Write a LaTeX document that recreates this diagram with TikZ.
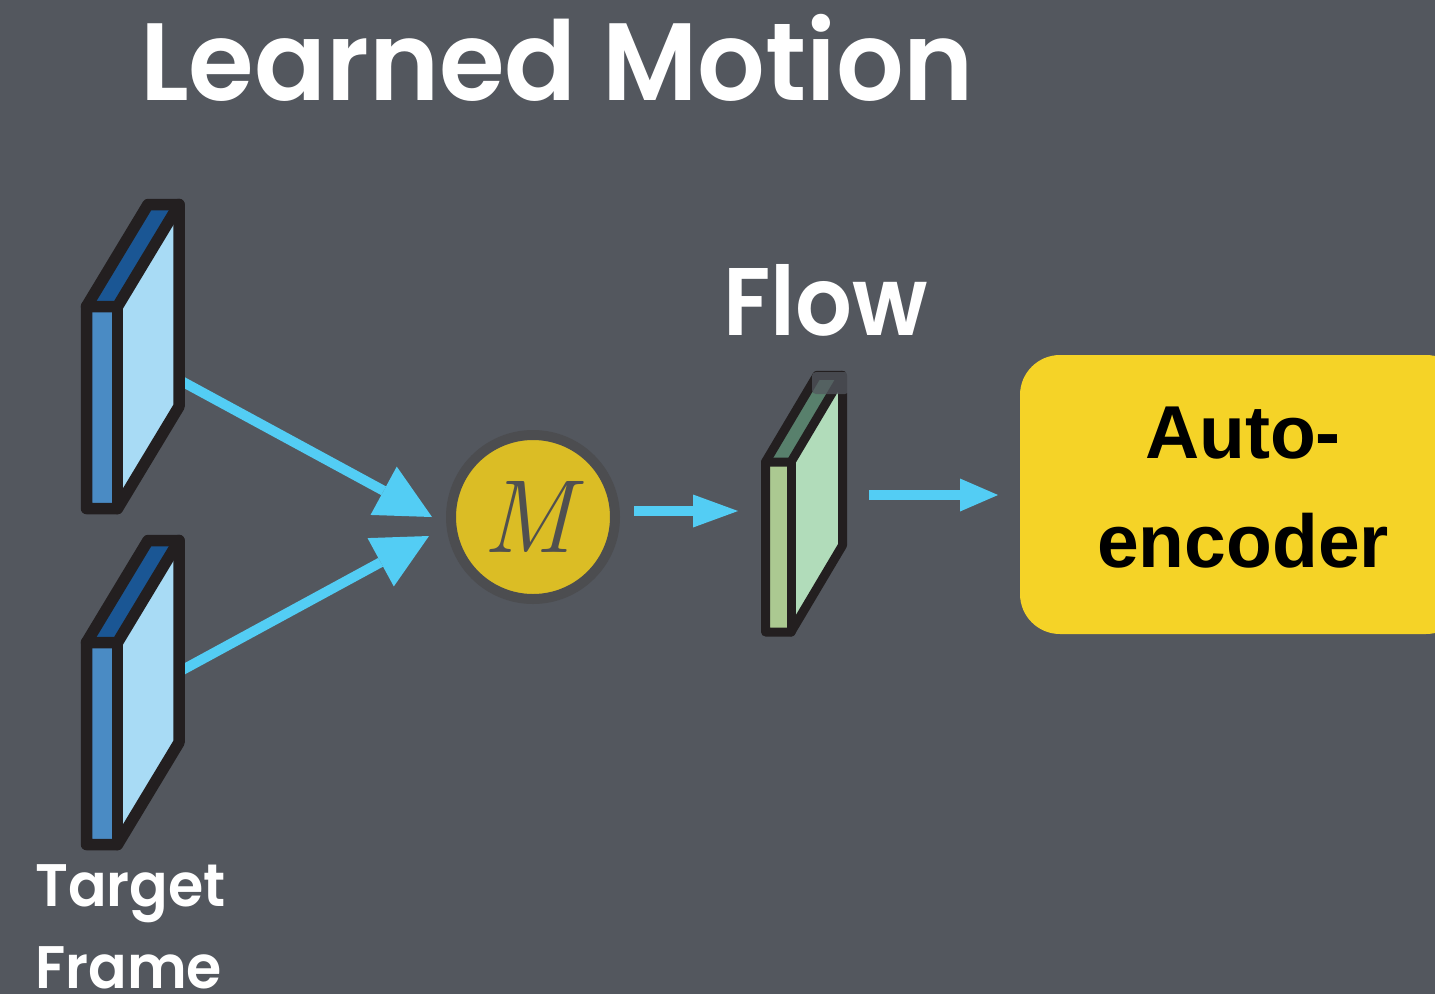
\documentclass[tikz,border=0pt]{standalone}
\usepackage{fontspec}
\newfontfamily\boxfont{Liberation Sans}
\newfontfamily\headfont{Poppins SemiBold}
\usetikzlibrary{arrows.meta}

\definecolor{bg}{RGB}{83,87,94}
\definecolor{edge}{RGB}{35,31,32}
\definecolor{bluefront}{RGB}{74,139,196}
\definecolor{blueside}{RGB}{168,219,245}
\definecolor{bluetop}{RGB}{26,86,148}
\definecolor{greenfront}{RGB}{171,201,145}
\definecolor{greenside}{RGB}{177,220,186}
\definecolor{greentop}{RGB}{88,128,108}
\definecolor{arrowcyan}{RGB}{83,205,244}
\definecolor{mgold}{RGB}{219,189,37}
\definecolor{mring}{RGB}{76,77,80}
\definecolor{mgray}{RGB}{80,80,80}
\definecolor{aeyellow}{RGB}{245,211,39}

\tikzset{
  slabedge/.style={draw=edge, line width=11.5pt, line join=round, line cap=round},
  % a thin tilted slab: front face w x h, receding by (dx,dy)
  pics/slab/.style n args={6}{code={
    \fill[#5front] (0,0) rectangle (#1,#2);
    \fill[#5side] (#1,0) -- ++(#3,#4) -- ++(0,#2) -- (#1,#2) -- cycle;
    \fill[#5top] (0,0) -- ++(#3,#4) -- ++(#1,0) -- (#1,0) -- cycle;
    \draw[slabedge, line width=#6] (0,0) -- ++(#3,#4) -- ++(#1,0) -- ++(0,#2) -- (#1,#2) -- (0,#2) -- cycle;
    \draw[slabedge, line width=#6] (0,0) -- (#1,0) -- ++(#3,#4);
    \draw[slabedge, line width=#6] (#1,0) -- (#1,#2);
  }},
  flowarrow/.style={draw=arrowcyan, line width=10pt},
  bighead/.style={-{Triangle[length=55pt,width=55pt,line width=0pt]}},
  smallhead/.style={-{Triangle[length=#1,width=33pt,line width=0pt]}},
  headtext/.style={text=white, inner sep=0pt, anchor=base west},
}

\begin{document}
\begin{tikzpicture}[x=1pt,y=-1pt]
  \useasboundingbox (0,0) rectangle (1435,994);
  \fill[bg] (0,0) rectangle (1435,994);
  \clip (0,0) rectangle (1435,994);

  % title
  \node[headtext, font=\headfont\fontsize{110}{110}\selectfont] (title)
    at (140,100) {\scalebox{0.965}[1]{Learned Motion}};

  % arrow endpoints
  \coordinate (slabA-out) at (180,380.3);
  \coordinate (slabB-out) at (180,671.3);
  \coordinate (m-inA) at (432,517);
  \coordinate (m-inB) at (429,536);
  \coordinate (m-out) at (634,511);
  \coordinate (flow-in) at (738,511);
  \coordinate (flow-out) at (869,495);
  \coordinate (ae-in) at (998,495);

  % frame inputs -> motion network
  \draw[flowarrow, bighead] (slabA-out) -- (m-inA);
  \draw[flowarrow, bighead] (slabB-out) -- (m-inB);

  % the two input frames
  \pic at (86.5,306.5) {slab={31}{202}{61.5}{-102}{blue}{11.5pt}};
  \pic at (86.5,642.5) {slab={31}{202}{61.5}{-102}{blue}{11.5pt}};

  \node[headtext, font=\headfont\fontsize{60}{82}\selectfont, align=left, text depth=0pt] (target)
    at (35,988) {\scalebox{0.95}[1]{Target}\\\scalebox{0.95}[1]{Frame}};

  % motion network
  \node[circle, fill=mgold, draw=mring, line width=10pt, minimum size=164pt, inner sep=0pt,
        text=mgray, font=\fontsize{104}{104}\selectfont\itshape] (M) at (533,517) {\kern-10pt M};

  % flow output
  \draw[flowarrow, smallhead=45pt] (m-out) -- (flow-in);
  \pic at (765.5,462) {slab={25.5}{170}{51.5}{-86.7}{green}{9pt}};
  \fill[bg, opacity=0.75, rounded corners=4pt] (812,372) rectangle (849,394);
  \node[headtext, font=\headfont\fontsize{96}{96}\selectfont] (flowlabel)
    at (723,335) {\scalebox{0.93}[1]{Flow}};

  % autoencoder
  \draw[flowarrow, smallhead=38pt] (flow-out) -- (ae-in);
  \node[fill=aeyellow, rounded corners=40pt, minimum width=446pt, minimum height=279pt,
        inner sep=0pt] (ae) at (1243,494.5) {};
  \node[font=\boxfont\bfseries\fontsize{75}{109}\selectfont, align=center, inner sep=0pt] (aelabel)
    at (1243,488) {Auto-\\encoder};
\end{tikzpicture}
\end{document}
